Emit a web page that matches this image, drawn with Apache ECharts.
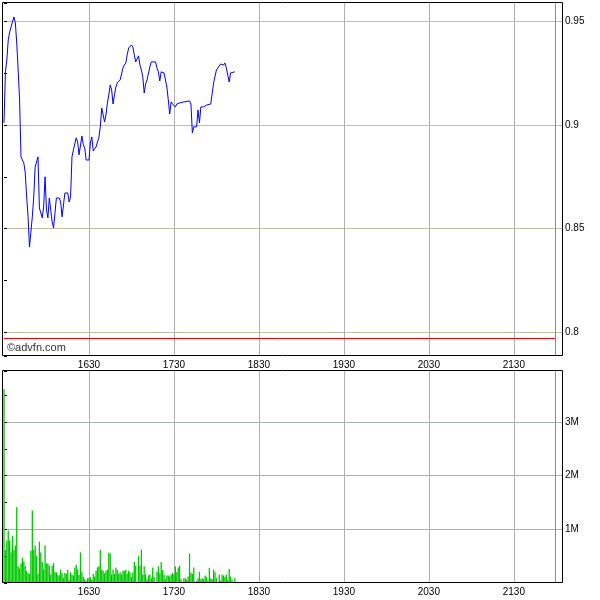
<!DOCTYPE html>
<html><head><meta charset="utf-8">
<script src="https://cdn.jsdelivr.net/npm/echarts@6/dist/echarts.min.js"></script>
<style>html,body{margin:0;padding:0;background:#fff}#c{width:600px;height:600px}</style>
</head><body><div id="c"></div>
<script>
// ---- data ----
const priceTimes = ['15:30','15:31','15:32','15:33','15:34','15:35','15:36','15:37','15:38','15:39','15:40','15:41','15:42','15:44','15:45','15:46','15:47','15:48','15:49','15:50','15:51','15:52','15:53','15:54','15:55','15:56','15:57','15:58','15:59','16:00','16:01','16:02','16:03','16:04','16:05','16:06','16:07','16:09','16:10','16:11','16:12','16:13','16:15','16:16','16:17','16:18','16:19','16:21','16:22','16:23','16:24','16:25','16:26','16:27','16:28','16:30','16:31','16:32','16:33','16:34','16:35','16:36','16:37','16:38','16:39','16:40','16:41','16:42','16:43','16:44','16:45','16:46','16:47','16:48','16:49','16:50','16:51','16:52','16:54','16:55','16:56','16:57','16:58','16:59','17:00','17:01','17:02','17:03','17:04','17:05','17:06','17:07','17:08','17:09','17:10','17:11','17:12','17:13','17:14','17:17','17:18','17:19','17:20','17:21','17:22','17:23','17:24','17:25','17:26','17:27','17:28','17:29','17:30','17:31','17:32','17:34','17:37','17:41','17:42','17:43','17:44','17:46','17:47','17:48','17:49','17:50','17:51','17:52','17:53','17:54','17:56','17:57','17:58','18:00','18:01','18:02','18:03','18:04','18:05','18:06','18:07','18:08','18:09','18:10','18:11','18:13'];
const prices = [0.9010,0.9256,0.9313,0.9410,0.9448,0.9473,0.9497,0.9521,0.9492,0.9395,0.9265,0.9121,0.8846,0.8817,0.8769,0.8653,0.8557,0.8412,0.8407,0.8557,0.8653,0.8798,0.8803,0.8846,0.8600,0.8605,0.8552,0.8605,0.8750,0.8590,0.8552,0.8648,0.8590,0.8533,0.8504,0.8504,0.8648,0.8648,0.8629,0.8557,0.8557,0.8672,0.8672,0.8629,0.8653,0.8846,0.8880,0.8938,0.8918,0.8856,0.8851,0.8947,0.8904,0.8889,0.8831,0.8831,0.8913,0.8942,0.8875,0.8880,0.8894,0.8918,0.8938,0.8991,0.9082,0.9087,0.9015,0.9048,0.9106,0.9145,0.9193,0.9169,0.9101,0.9145,0.9183,0.9203,0.9207,0.9217,0.9275,0.9289,0.9299,0.9338,0.9371,0.9362,0.9386,0.9376,0.9338,0.9304,0.9309,0.9333,0.9289,0.9265,0.9232,0.9154,0.9198,0.9217,0.9217,0.9280,0.9304,0.9304,0.9275,0.9256,0.9212,0.9256,0.9265,0.9251,0.9217,0.9183,0.9121,0.9053,0.9111,0.9101,0.9092,0.9087,0.9101,0.9106,0.9111,0.9116,0.9101,0.8962,0.8991,0.8991,0.9072,0.9010,0.9087,0.9082,0.9087,0.9092,0.9096,0.9101,0.9101,0.9106,0.9203,0.9265,0.9275,0.9280,0.9294,0.9299,0.9289,0.9299,0.9275,0.9241,0.9207,0.9251,0.9256,0.9256];

const volTimes = ['15:30','15:31','15:32','15:33','15:34','15:35','15:36','15:37','15:38','15:39','15:40','15:41','15:42','15:43','15:44','15:45','15:46','15:47','15:48','15:49','15:50','15:51','15:52','15:53','15:54','15:55','15:56','15:57','15:58','15:59','16:00','16:01','16:02','16:03','16:04','16:05','16:06','16:07','16:08','16:09','16:10','16:11','16:12','16:13','16:14','16:15','16:16','16:17','16:18','16:19','16:20','16:21','16:22','16:23','16:24','16:25','16:26','16:27','16:28','16:29','16:30',
'16:31','16:32','16:33','16:34','16:35','16:36','16:37','16:38','16:39','16:40','16:41','16:42','16:43','16:44','16:45','16:46','16:47','16:48','16:49','16:50','16:51','16:52','16:53','16:54','16:55','16:56','16:57','16:58','16:59','17:00','17:01','17:02','17:03','17:05','17:06','17:07','17:08','17:09','17:10','17:11','17:12','17:13','17:14','17:15','17:16','17:18','17:19','17:20','17:21','17:22','17:23','17:24','17:25','17:26','17:27','17:28','17:29','17:30','17:31','17:32','17:33','17:34','17:35','17:37','17:38','17:39','17:40','17:41','17:42','17:43','17:44','17:46','17:47','17:48','17:49','17:50','17:51','17:52','17:53','17:54','17:55','17:56','17:57','17:58','17:59','18:00','18:02','18:03','18:04','18:05','18:06','18:07','18:08','18:09','18:10','18:11','18:13'];
const volumesM = [3.61,0.62,0.79,0.98,0.79,0.57,0.88,0.62,0.70,1.41,0.31,0.27,0.37,0.47,0.40,0.32,0.22,0.18,0.17,0.60,1.35,0.62,0.70,0.51,0.17,0.77,0.57,0.39,0.25,0.70,0.37,0.36,0.32,0.16,0.32,0.37,0.21,0.20,0.15,0.14,0.25,0.18,0.09,0.19,0.17,0.24,0.06,0.20,0.16,0.14,0.29,0.34,0.25,0.15,0.57,0.21,0.11,0.07,0.04,0.09,0.09,
0.11,0.06,0.17,0.12,0.23,0.29,0.31,0.62,0.24,0.23,0.18,0.23,0.25,0.57,0.55,0.16,0.25,0.17,0.29,0.24,0.17,0.20,0.16,0.23,0.23,0.24,0.17,0.23,0.20,0.11,0.20,0.39,0.32,0.50,0.32,0.62,0.16,0.31,0.16,0.06,0.14,0.16,0.09,0.29,0.11,0.21,0.31,0.18,0.39,0.24,0.16,0.07,0.14,0.14,0.12,0.16,0.19,0.16,0.31,0.20,0.29,0.32,0.07,0.09,0.09,0.06,0.12,0.55,0.19,0.17,0.29,0.04,0.09,0.21,0.07,0.09,0.07,0.14,0.11,0.04,0.28,0.09,0.07,0.25,0.20,0.09,0.16,0.04,0.16,0.14,0.11,0.16,0.06,0.26,0.12,0.06,0.09];

const xTickLabels = ['1630','1730','1830','1930','2030','2130'];
const priceTickValues = [0.8, 0.85, 0.9, 0.95];
const volTickLabels = ['1M','2M','3M'];
const prevClose = 0.797;
const sessionStart = '15:30';
const sessionEnd = '21:59';
const axisEnd = '22:04';
const priceRange = [0.7886, 0.9588];
const volMaxM = 3.95;

// ---- helpers ----
function toMin(s){const p=s.split(':').map(Number);const q=sessionStart.split(':').map(Number);return p[0]*60+p[1]-(q[0]*60+q[1]);}
function xLabel(v){const i=Math.round(v/60)-1;return (v%60===0&&i>=0&&i<xTickLabels.length)?xTickLabels[i]:'';}

const FONT='Liberation Sans, Arial, sans-serif';
const chart = echarts.init(document.getElementById('c'), null, {renderer:'canvas'});

const xCommon = (gi)=>({
  type:'value', gridIndex:gi, min:0, max:toMin(axisEnd), interval:60,
  axisLine:{show:false}, axisTick:{show:false},
  axisLabel:{formatter:xLabel, color:'#000', fontSize:10, fontFamily:FONT, margin:4, showMinLabel:false, showMaxLabel:false},
  splitLine:{show:true, showMinLine:false, showMaxLine:false, lineStyle:{color:'#b0b0b0', width:1}}
});

const option = {
  animation:false,
  backgroundColor:'#fff',
  grid:[
    {left:4, top:3, width:558, height:353, show:false},
    {left:4, top:371, width:558, height:212, show:false}
  ],
  xAxis:[xCommon(0), xCommon(1)],
  yAxis:[
    {type:'value', gridIndex:0, position:'right', min:priceRange[0], max:priceRange[1], splitNumber:3,
     axisLine:{show:false},
     axisTick:{show:true, inside:false, length:3, lineStyle:{color:'#000'}},
     minorTick:{show:true, splitNumber:2, length:3, lineStyle:{color:'#000'}},
     axisLabel:{color:'#000', fontSize:10, fontFamily:FONT, margin:3, showMinLabel:false, showMaxLabel:false,
       formatter:(v)=>priceTickValues.some(t=>Math.abs(t-v)<1e-6)?String(v):''},
     splitLine:{show:true, showMinLine:false, showMaxLine:false, lineStyle:{color:'#c0c0a4', width:1}}
    },
    {type:'value', gridIndex:1, position:'right', min:0, max:volMaxM, interval:1,
     axisLine:{show:false},
     axisTick:{show:true, inside:false, length:3, lineStyle:{color:'#000'}},
     minorTick:{show:true, splitNumber:2, length:3, lineStyle:{color:'#000'}},
     axisLabel:{color:'#000', fontSize:10, fontFamily:FONT, margin:3, showMinLabel:false, showMaxLabel:false,
       formatter:(v)=>{const i=Math.round(v)-1;return (Math.abs(v-Math.round(v))<1e-6&&i>=0&&i<volTickLabels.length)?volTickLabels[i]:'';}},
     splitLine:{show:true, showMinLine:false, showMaxLine:false, lineStyle:{color:'#a8b4b4', width:1}}
    }
  ],
  series:[
    {type:'line', xAxisIndex:0, yAxisIndex:0, showSymbol:false, symbol:'none',
     data:priceTimes.map((t,i)=>[toMin(t), prices[i]]),
     lineStyle:{color:'#0000ff', width:1}, z:5,
     markLine:{silent:true, symbol:'none', animation:false, label:{show:false},
       data:[
         [{coord:[0, prevClose], lineStyle:{color:'#ff0000', width:1, type:'solid'}},{coord:[toMin(sessionEnd), prevClose]}],
         {xAxis:toMin(sessionEnd), lineStyle:{color:'#8c8c8c', width:1, type:'solid'}}
       ]}
    },
    {type:'bar', xAxisIndex:1, yAxisIndex:1, barWidth:1.3,
     data:volTimes.map((t,i)=>[toMin(t), volumesM[i]]),
     itemStyle:{color:'#00c800'},
     markLine:{silent:true, symbol:'none', animation:false, label:{show:false},
       data:[{xAxis:toMin(sessionEnd), lineStyle:{color:'#8c8c8c', width:1, type:'solid'}}]}
    }
  ],
  graphic:[
    {type:'rect', silent:true, z:100, shape:{x:2.5, y:2.5, width:560, height:353}, style:{fill:null, stroke:'#000', lineWidth:1}},
    {type:'rect', silent:true, z:100, shape:{x:2.5, y:370.5, width:560, height:212}, style:{fill:null, stroke:'#000', lineWidth:1}},
    {type:'text', left:7, top:342, style:{text:'©advfn.com', fill:'#333', font:'11px '+FONT}}
  ]
};
chart.setOption(option);
</script>
</body></html>
